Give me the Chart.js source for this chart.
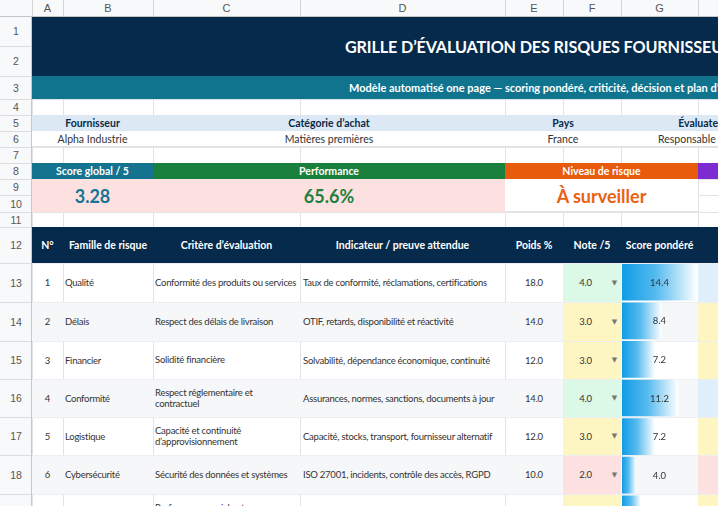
<!DOCTYPE html>
<html><head><meta charset="utf-8">
<script src="https://cdn.jsdelivr.net/npm/chart.js@4.4.1/dist/chart.umd.min.js"></script>
<style>
html,body{margin:0;padding:0;background:#fff;}
#sheet{position:relative;width:718px;height:506px;overflow:hidden;font-family:Lato,"Noto Sans",sans-serif;}
.c{position:absolute;box-sizing:border-box;overflow:visible;white-space:nowrap;display:flex;align-items:center;}
.ln{position:absolute;}
#bars{position:absolute;left:622px;top:263px;z-index:5;}
</style></head>
<body><div id="sheet"></div>
<canvas id="bars" width="75" height="270"></canvas>
<script>
// ---------- data ----------
const colLetters = ["A","B","C","D","E","F","G"];
const title = "GRILLE D’ÉVALUATION DES RISQUES FOURNISSEURS";
const subtitle = "Modèle automatisé one page — scoring pondéré, criticité, décision et plan d’action";
const infoLabels = ["Fournisseur","Catégorie d’achat","Pays","Évaluateur"];
const infoValues = ["Alpha Industrie","Matières premières","France","Responsable achats"];
const kpiLabels = ["Score global / 5","Performance","Niveau de risque",""];
const scoreGlobal = "3.28";
const performance = "65.6%";
const niveauRisque = "À surveiller";
const tableHeaders = ["N°","Famille de risque","Critère d’évaluation","Indicateur / preuve attendue","Poids %","Note /5","Score pondéré"];
const numeros = [1,2,3,4,5,6,7];
const familles = ["Qualité","Délais","Financier","Conformité","Logistique","Cybersécurité","RSE"];
const criteres = ["Conformité des produits ou services","Respect des délais de livraison","Solidité financière","Respect réglementaire et contractuel","Capacité et continuité d’approvisionnement","Sécurité des données et systèmes","Performance sociale et environnementale"];
const indicateurs = ["Taux de conformité, réclamations, certifications","OTIF, retards, disponibilité et réactivité","Solvabilité, dépendance économique, continuité","Assurances, normes, sanctions, documents à jour","Capacité, stocks, transport, fournisseur alternatif","ISO 27001, incidents, contrôle des accès, RGPD","Politique RSE, audits, émissions"];
const poids = [18.0,14.0,12.0,14.0,12.0,10.0,8.0];
const notes = [4.0,3.0,3.0,4.0,3.0,2.0,3.0];
const scores = [14.4,8.4,7.2,11.2,7.2,4.0,4.8];

// ---------- layout ----------
const colX = [0,32,63,153,300,505,563,621,698,785];
const rowY = [0,16,46,76,99,115,131,147,163,179,195,212,227,263,302,341,379,417,455,494,533];
const sheet = document.getElementById('sheet');
function box(x0,x1,y0,y1,bg,z){const d=document.createElement('div');d.className='ln';d.style.cssText=`left:${x0}px;top:${y0}px;width:${x1-x0}px;height:${y1-y0}px;background:${bg};z-index:${z||1}`;sheet.appendChild(d);return d;}
function txt(x0,x1,y0,y1,t,css,align){const d=document.createElement('div');d.className='c';d.style.cssText=`left:${x0}px;top:${y0}px;width:${x1-x0}px;height:${y1-y0}px;justify-content:${align||'center'};z-index:6;`+css;d.textContent=t;sheet.appendChild(d);return d;}

// gridlines
const GL='#e2e3e3';
for(let i=1;i<colX.length;i++) box(colX[i],colX[i]+1,16,506,GL,1);
for(let j=1;j<rowY.length;j++) box(32,718,rowY[j],rowY[j]+1,GL,1);
// column header
box(0,718,0,16,'#f8f9fa',2); box(0,718,16,17,'#c7c7c7',3);
for(let i=1;i<colX.length;i++) box(colX[i],colX[i]+1,0,16,'#d4d4d4',3);
colLetters.forEach((l,i)=>txt(colX[i+1],colX[i+2],0,16,l,'font:11px "Liberation Sans",Arial;color:#555;'));
// row header
box(0,32,16,506,'#f8f9fa',2); box(31,32,16,506,'#c7c7c7',3);
for(let j=1;j<rowY.length-2;j++){box(0,31,rowY[j+1],rowY[j+1]+1,'#dcdcdc',3);txt(0,32,rowY[j],rowY[j+1],String(j),'font:10.5px "Liberation Sans",Arial;color:#555;');}

// title rows
box(32,718,16,76,'#062a4c',2);
txt(345,718,16,77,title,'font:bold 16.2px Lato;letter-spacing:-0.15px;color:#fff;overflow:hidden;','flex-start');
box(32,718,76,99,'#11748f',2);
txt(349,718,76,99,subtitle,'font:bold 11px Lato;color:#fff;overflow:hidden;','flex-start');
// info rows
box(32,718,115,131,'#dce9f4',2);
box(32,718,131,147,'#fff',2);box(32,718,146,147,GL,2);
const merges=[[32,153],[153,505],[505,621],[621,785]];
merges.forEach((m,i)=>{txt(m[0],m[1],115,131,infoLabels[i],'font:bold 10.5px Lato;color:#0a2a4a;');txt(m[0],m[1],131,147,infoValues[i],'font:10.5px Lato;color:#333;');});
// KPI rows
const kpiCols=['#14738f','#1a803d','#e85a0c','#7e2bcf'];
const kpiM=[[32,153],[153,505],[505,698],[698,785]];
kpiM.forEach((m,i)=>{box(m[0],m[1],163,179,kpiCols[i],2);txt(m[0],m[1],163,179,kpiLabels[i],'font:bold 10.5px Lato;color:#fff;');});
box(32,505,179,212,'#fde1e1',2);box(505,698,179,212,'#fff',2);box(505,698,211,212,GL,2);
txt(32,153,179,212,scoreGlobal,'font:bold 18px Lato;color:#157593;');
txt(153,505,179,212,performance,'font:bold 18px Lato;color:#1f8141;');
txt(505,698,179,212,niveauRisque,'font:bold 18px Lato;color:#ea6112;');
// table header
box(32,718,227,263,'#062a4c',2);
const hdrM=[[32,63],[63,153],[153,300],[300,505],[505,563],[563,621],[621,698]];
tableHeaders.forEach((h,i)=>txt(hdrM[i][0],hdrM[i][1],227,263,h,'font:bold 10.5px Lato;color:#fff;'));
// body rows
const noteBg={4:'#dcf8e7',3:'#fdf6c3',2:'#fde1e1',5:'#c9f0d6',1:'#fbcaca'};
const critBg={4:'#dfeffc',3:'#fdf6c3',2:'#fde1e1',5:'#dfeffc',1:'#fbcaca'};
numeros.forEach((n,i)=>{
  const y0=rowY[13+i],y1=rowY[14+i];const alt=i%2===1;const bg=alt?'#f6f7f9':'#ffffff';
  if(alt){box(32,563,y0,y1,bg,2);}
  box(621,698,y0,y1,bg,2);
  box(563,621,y0,y1,noteBg[notes[i]],2);
  box(698,785,y0,y1,critBg[notes[i]],2);
  box(32,785,y0,y0+1,'#eceef1',2);
  const base='font:9.5px Lato;letter-spacing:-0.25px;color:#333;';
  txt(32,63,y0,y1,String(n),base);
  txt(65,153,y0,y1,familles[i],base,'flex-start');
  txt(155,297,y0,y1,criteres[i],base+'white-space:normal;line-height:11.5px;','flex-start');
  txt(303,505,y0,y1,indicateurs[i],base,'flex-start');
  txt(505,563,y0,y1,poids[i].toFixed(1),base);
  txt(563,608,y0,y1,notes[i].toFixed(1),base);
  txt(609,620,y0,y1,'▼','font:7px "DejaVu Sans";color:#777;');
});

// ---------- data bars (Chart.js) ----------
function barFill(c){
  const ch=c.chart,a=ch.chartArea;
  if(c.type!=='data'||!a||!ch.scales.x) return '#3aaae8';
  const x1=ch.scales.x.getPixelForValue(c.raw);
  const g=ch.ctx.createLinearGradient(a.left,0,Math.max(x1,a.left+1),0);
  g.addColorStop(0,'#109ce5');g.addColorStop(0.45,'#55baef');g.addColorStop(1,'#ffffff');
  return g;
}
const labelPlugin={id:'lbl',afterDatasetsDraw(ch){
  const ctx=ch.ctx;ctx.save();ctx.font='9.5px Lato';ctx.fillStyle='#333';ctx.textAlign='center';ctx.textBaseline='middle';
  ch.getDatasetMeta(0).data.forEach((el,i)=>{ctx.fillText(scores[i].toFixed(1),(ch.chartArea.left+ch.chartArea.right)/2,el.y+0.5);});
  ctx.restore();}};
new Chart(document.getElementById('bars'),{
  type:'bar',
  data:{labels:numeros.map(String),datasets:[{data:scores,backgroundColor:barFill,borderWidth:0,barPercentage:1,categoryPercentage:0.95}]},
  options:{indexAxis:'y',responsive:false,animation:false,events:[],
    layout:{padding:0},
    plugins:{legend:{display:false},tooltip:{enabled:false}},
    scales:{x:{display:false,min:1.6,max:14.4},y:{display:false}}},
  plugins:[labelPlugin]
});
</script></body></html>
